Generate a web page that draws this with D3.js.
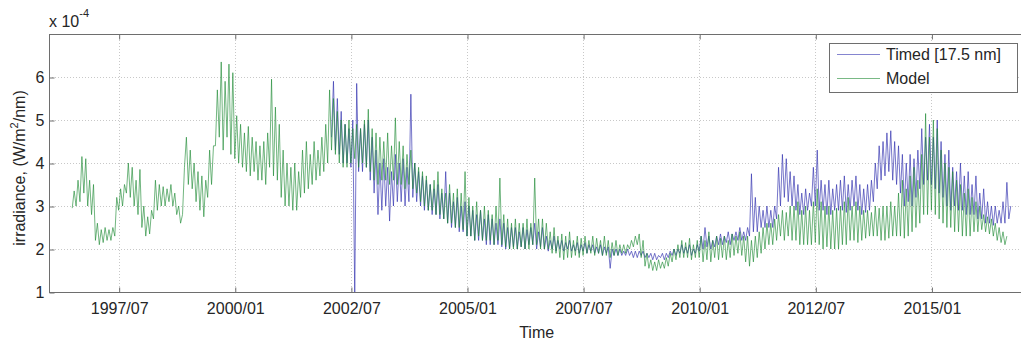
<!DOCTYPE html>
<html>
<head>
<meta charset="utf-8">
<script src="https://cdn.jsdelivr.net/npm/d3@7"></script>
<style>
  html, body { margin: 0; padding: 0; background: #fff; }
  svg { display: block; font-family: "Liberation Sans", Arial, Helvetica, sans-serif; }
</style>
</head>
<body>
<svg id="chart" width="1021" height="345"></svg>
<script>
// ---- Data (irradiance in units of 1e-4 W/m^2/nm), monthly high / low envelope ----
// month index counted from 1996/01
const modelStart = 6;   // 1996/07
const modelHi = [
  3.35,3.6,4.15,4.1,3.6,3.5,
  2.6,2.45,2.5,2.45,2.5,3.2,3.4,3.5,4.0,3.9,3.6,3.85,
  3.0,2.75,2.9,3.6,3.5,3.45,3.4,3.5,3.3,3.0,2.8,4.6,
  4.3,4.0,3.8,3.7,3.6,4.3,4.4,5.7,6.35,5.9,6.3,6.1,
  5.1,4.9,4.7,4.85,4.6,4.5,4.4,4.5,4.7,5.95,5.3,4.9,
  4.3,4.0,3.9,4.0,3.8,4.3,4.5,4.2,4.5,4.3,4.6,4.9,
  5.7,5.5,5.2,5.0,4.9,5.0,4.8,4.9,4.8,5.0,5.25,4.8,
  4.7,4.6,4.5,4.7,4.4,5.05,4.5,4.4,4.2,4.3,4.0,3.9,
  3.8,3.7,3.5,3.6,3.8,3.4,3.3,3.5,3.3,3.4,3.3,3.8,
  3.2,3.0,3.1,2.9,3.0,2.9,2.8,3.0,3.65,2.8,2.7,2.6,
  2.7,2.6,2.6,2.7,2.6,3.65,2.7,2.7,2.6,2.4,2.5,2.3,
  2.35,2.3,2.4,2.2,2.3,2.25,2.3,2.2,2.3,2.25,2.2,2.3,
  2.2,2.15,2.2,2.1,2.1,2.1,2.2,2.3,2.35,2.2,1.9,1.75,
  1.7,1.75,1.7,1.8,1.9,2.0,2.1,2.2,2.15,2.25,2.1,2.2,
  2.3,2.2,2.4,2.2,2.3,2.25,2.3,2.2,2.35,2.3,2.4,2.3,
  2.3,2.2,2.3,2.4,2.5,2.6,2.6,2.7,2.8,2.9,2.85,3.0,
  3.0,3.1,2.9,3.0,2.9,3.1,3.4,3.1,3.0,3.0,2.9,2.95,
  3.0,3.1,3.2,3.0,3.1,3.0,2.9,2.9,2.85,3.0,2.95,3.0,
  3.0,3.1,3.0,3.3,3.6,3.4,3.7,3.9,3.6,4.2,5.15,4.6,
  5.0,4.8,4.3,4.0,3.9,3.8,3.6,3.5,3.3,3.4,3.2,3.1,
  3.0,2.8,2.75,2.7,2.6,2.5,2.4,2.3
];
const modelLo = [
  2.95,3.0,3.1,3.3,3.0,2.8,
  2.2,2.1,2.15,2.2,2.2,2.3,2.9,3.0,3.3,3.2,3.0,2.8,
  2.5,2.3,2.35,2.7,2.9,3.0,3.0,3.1,3.0,2.8,2.6,3.9,
  3.5,3.4,3.1,2.9,2.75,3.2,3.5,4.4,4.6,4.3,4.6,4.2,
  4.1,4.0,3.9,3.8,3.7,3.8,3.6,3.6,3.5,3.9,3.7,3.6,
  3.2,3.0,3.0,2.9,2.9,3.2,3.3,3.4,3.5,3.6,3.7,3.8,
  4.0,4.3,4.2,4.0,3.9,3.9,4.0,4.1,3.9,4.0,3.9,3.8,
  3.6,3.5,3.6,3.6,3.5,3.6,3.5,3.5,3.4,3.5,3.4,3.3,
  3.1,3.0,2.9,2.9,2.8,2.8,2.7,2.6,2.6,2.5,2.5,2.45,
  2.3,2.3,2.2,2.3,2.2,2.2,2.2,2.1,2.2,2.1,2.05,2.0,
  2.0,2.0,2.05,2.0,2.0,2.1,2.1,2.0,2.0,2.0,1.9,1.9,
  1.8,1.75,1.8,1.8,1.85,1.8,1.85,1.9,1.9,1.85,1.9,1.85,
  1.85,1.8,1.85,1.85,1.9,1.9,2.0,2.05,2.1,1.8,1.6,1.55,
  1.5,1.5,1.55,1.55,1.6,1.7,1.75,1.8,1.8,1.8,1.75,1.8,
  1.8,1.7,1.75,1.7,1.8,1.75,1.8,1.75,1.8,1.85,1.9,1.85,
  1.7,1.6,1.7,1.8,1.9,2.0,2.1,2.1,2.2,2.3,2.2,2.3,
  2.2,2.2,2.1,2.1,2.1,2.1,2.15,2.1,2.0,2.05,2.0,2.0,
  2.0,2.1,2.1,2.2,2.2,2.15,2.2,2.25,2.3,2.3,2.3,2.2,
  2.2,2.25,2.3,2.3,2.3,2.25,2.3,2.4,2.5,2.6,2.8,2.8,
  2.9,2.8,2.7,2.6,2.5,2.5,2.4,2.4,2.3,2.3,2.3,2.4,
  2.4,2.45,2.4,2.35,2.3,2.2,2.15,2.1
];

const timedStart = 73;  // 2002/02
const timedHi = [
  5.9,5.5,5.2,4.9,4.8,5.0,5.85,4.8,4.9,5.0,4.6,
  4.3,4.0,4.1,3.9,3.8,4.2,4.0,4.1,3.9,5.6,4.0,3.8,
  3.7,3.6,3.5,3.4,3.5,3.3,3.8,3.3,3.1,3.2,3.0,3.1,
  3.0,2.9,2.8,2.9,2.7,2.8,2.7,2.6,2.7,2.6,2.5,2.5,
  2.5,2.4,2.5,2.45,2.5,2.6,2.4,2.5,2.3,2.2,2.3,2.2,
  2.2,2.15,2.2,2.1,2.15,2.1,2.15,2.1,2.1,2.05,2.1,2.05,
  2.05,2.0,2.0,2.0,1.95,2.0,1.95,1.95,1.95,1.95,1.9,1.9,
  1.9,1.85,1.9,1.9,1.95,2.0,2.0,2.1,2.05,2.1,2.0,2.1,
  2.3,2.5,2.3,2.2,2.3,2.35,2.3,2.4,2.35,2.4,2.5,2.4,
  2.5,3.75,3.2,3.0,2.9,3.0,2.9,3.0,3.9,4.2,4.1,3.8,
  3.7,3.5,3.3,3.4,3.3,3.9,4.3,3.6,3.5,3.6,3.4,3.5,
  3.6,3.7,3.5,3.6,3.7,3.5,3.4,3.5,3.6,4.0,4.4,4.5,
  4.7,4.75,4.5,4.4,4.2,4.0,4.2,4.1,4.3,4.8,4.6,4.9,
  4.6,5.0,4.5,4.2,4.3,3.9,3.8,4.0,3.7,3.8,3.5,3.7,
  3.3,3.4,3.1,3.0,3.0,2.9,3.1,3.55,3.0
];
const timedLo = [
  4.6,4.3,4.2,4.0,4.0,3.9,0.9,3.8,3.8,3.9,3.6,
  3.3,2.8,2.9,3.0,2.65,3.0,3.1,3.1,3.0,3.1,3.2,3.1,
  3.0,2.9,2.9,2.8,2.8,2.7,2.7,2.6,2.5,2.5,2.4,2.4,
  2.3,2.3,2.2,2.2,2.2,2.1,2.1,2.1,2.1,2.05,2.0,2.0,
  2.05,2.0,2.05,2.0,2.1,2.1,2.0,2.05,2.0,1.95,2.0,1.95,
  2.0,1.95,2.0,1.95,1.95,1.9,1.95,1.9,1.95,1.9,1.9,1.85,
  1.9,1.55,1.85,1.85,1.85,1.85,1.85,1.8,1.8,1.85,1.8,1.8,
  1.75,1.75,1.8,1.75,1.8,1.85,1.85,1.9,1.9,1.9,1.85,1.9,
  1.95,2.0,2.05,2.0,2.05,2.1,2.1,2.15,2.1,2.2,2.2,2.2,
  2.2,2.3,2.4,2.4,2.5,2.5,2.5,2.5,2.7,3.0,3.2,3.1,
  3.0,2.9,2.8,2.8,2.9,3.0,3.0,2.9,2.9,2.8,2.8,2.9,
  2.9,2.9,2.85,2.9,3.0,2.9,2.8,2.85,2.9,3.1,3.4,3.6,
  3.7,3.8,3.6,3.5,3.3,3.0,3.1,3.0,3.2,3.4,3.5,3.6,
  3.5,3.4,3.3,3.2,3.0,2.9,3.0,2.9,2.9,2.8,2.8,2.8,
  2.7,2.7,2.6,2.6,2.55,2.6,2.6,2.6,2.7
];

const xTickLabels = ["1997/07","2000/01","2002/07","2005/01","2007/07","2010/01","2012/07","2015/01"];
const yTickValues = [1,2,3,4,5,6];
const seriesNames = ["Timed [17.5 nm]", "Model"];

// ---- Build point series: low at month start, high at mid-month ----
function buildSeries(start, hi, lo) {
  const pts = [];
  for (let i = 0; i < hi.length; i++) {
    const m = start + i;
    pts.push({ t: 1996 + m / 12, v: lo[i] });
    pts.push({ t: 1996 + (m + 0.5) / 12, v: hi[i] });
  }
  return pts;
}
const modelPts = buildSeries(modelStart, modelHi, modelLo);
const timedPts = buildSeries(timedStart, timedHi, timedLo);

function labelToYear(s) {
  const [y, m] = s.split("/").map(Number);
  return y + (m - 1) / 12;
}

// ---- Layout ----
const svg = d3.select("#chart");
const L = 49, T = 34, B = 292, R = 1024.3;
const x = d3.scaleLinear().domain([1996, 2017]).range([L, R]);
const y = d3.scaleLinear().domain([1, 7]).range([B, T]);
const txt = "#262626", axisCol = "#6e6e6e";

svg.append("defs").append("clipPath").attr("id", "clip")
  .append("rect").attr("x", L).attr("y", T).attr("width", R - L).attr("height", B - T);

// grid
const grid = svg.append("g").attr("stroke", "#c8c8c8").attr("stroke-width", 1)
  .attr("stroke-dasharray", "1,2");
xTickLabels.forEach(s => {
  const px = Math.round(x(labelToYear(s))) + 0.5;
  grid.append("line").attr("x1", px).attr("x2", px).attr("y1", T).attr("y2", B);
});
yTickValues.forEach(v => {
  const py = Math.round(y(v)) + 0.5;
  grid.append("line").attr("x1", L).attr("x2", R).attr("y1", py).attr("y2", py);
});

// lines
const line = d3.line().x(d => x(d.t)).y(d => y(d.v));
const plot = svg.append("g").attr("clip-path", "url(#clip)");
plot.append("path").datum(timedPts).attr("d", line)
  .attr("fill", "none").attr("stroke", "#3434b0").attr("stroke-width", 0.9)
  .attr("stroke-opacity", 0.75).attr("stroke-linejoin", "round");
plot.append("path").datum(modelPts).attr("d", line)
  .attr("fill", "none").attr("stroke", "#1f8a34").attr("stroke-width", 0.9)
  .attr("stroke-opacity", 0.7).attr("stroke-linejoin", "round");

// frame
svg.append("rect").attr("x", L + 0.5).attr("y", T + 0.5).attr("width", R - L).attr("height", B - T)
  .attr("fill", "none").attr("stroke", axisCol).attr("stroke-width", 1);

// axes
const xTicks = xTickLabels.map(labelToYear);
const xAxis = d3.axisBottom(x).tickValues(xTicks)
  .tickFormat((d, i) => xTickLabels[i]).tickSize(-5).tickPadding(10);
const gx = svg.append("g").attr("transform", `translate(0.5,${B + 0.5})`).call(xAxis);
const xAxisTop = d3.axisTop(x).tickValues(xTicks).tickFormat("").tickSize(-5);
const gxt = svg.append("g").attr("transform", `translate(0.5,${T + 0.5})`).call(xAxisTop);
const yAxis = d3.axisLeft(y).tickValues(yTickValues).tickFormat(d3.format("d")).tickSize(-5).tickPadding(5);
const gy = svg.append("g").attr("transform", `translate(${L + 0.5},0.5)`).call(yAxis);
[gx, gxt, gy].forEach(g => {
  g.select(".domain").remove();
  g.selectAll(".tick line").attr("stroke", axisCol);
  g.selectAll("text").attr("fill", txt).attr("font-size", 16)
    .attr("font-family", '"Liberation Sans", Arial, sans-serif');
});

// exponent label
const ex = svg.append("text").attr("x", L).attr("y", 27).attr("fill", txt).attr("font-size", 16);
ex.append("tspan").text("x 10");
ex.append("tspan").attr("font-size", 11).attr("dy", -10).text("-4");

// axis titles
svg.append("text").attr("x", (L + R) / 2).attr("y", 338).attr("text-anchor", "middle")
  .attr("fill", txt).attr("font-size", 16).text("Time");
const yl = svg.append("text").attr("transform", "translate(25,168) rotate(-90)")
  .attr("text-anchor", "middle").attr("fill", txt).attr("font-size", 16);
yl.append("tspan").text("irradiance,  (W/m");
yl.append("tspan").attr("font-size", 11).attr("dy", -7).text("2");
yl.append("tspan").attr("dy", 7).text("/nm)");

// legend
const lg = svg.append("g");
lg.append("rect").attr("x", 829.5).attr("y", 43.5).attr("width", 188).attr("height", 49)
  .attr("fill", "#fff").attr("stroke", axisCol).attr("stroke-width", 1);
const legCols = ["#3434b0", "#1f8a34"];
seriesNames.forEach((n, i) => {
  const yy = 54.5 + i * 24;
  lg.append("line").attr("x1", 837).attr("x2", 880).attr("y1", yy).attr("y2", yy)
    .attr("stroke", legCols[i]).attr("stroke-opacity", 0.6).attr("stroke-width", 1);
  lg.append("text").attr("x", 886).attr("y", yy + 5.5).attr("fill", txt).attr("font-size", 16).text(n);
});
</script>
</body>
</html>
